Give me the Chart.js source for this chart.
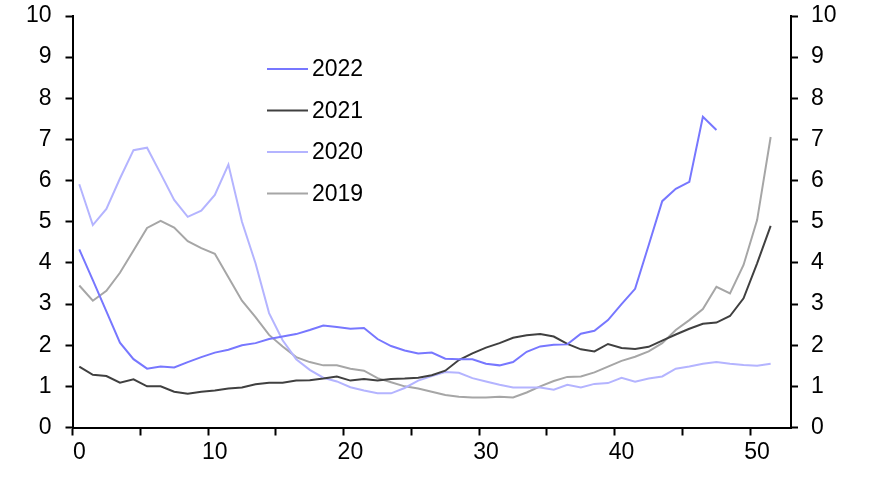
<!DOCTYPE html>
<html>
<head>
<meta charset="utf-8">
<script src="https://cdn.jsdelivr.net/npm/chart.js@4.4.1/dist/chart.umd.min.js"></script>
<style>
  html, body { margin: 0; padding: 0; background: #fff; }
  #wrap { width: 876px; height: 490px; position: relative; }
</style>
</head>
<body>
<div id="wrap"><canvas id="c" width="876" height="490"></canvas></div>
<script>
// Week index (0-based), plotted at the centre of each week slot
const seriesNames = ["2022", "2021", "2020", "2019"];
const values2022 = [4.33,3.58,2.82,2.06,1.66,1.43,1.48,1.46,1.59,1.71,
  1.82,1.89,2.00,2.05,2.15,2.21,2.27,2.37,2.48,2.44,
  2.40,2.42,2.15,1.98,1.87,1.80,1.82,1.67,1.66,1.66,
  1.55,1.51,1.59,1.84,1.97,2.01,2.02,2.28,2.35,2.61,
  3.00,3.37,4.43,5.50,5.80,5.97,7.55,7.23];
const values2021 = [1.48,1.28,1.25,1.09,1.17,1.00,1.00,0.87,0.82,0.87,
  0.90,0.95,0.97,1.05,1.09,1.09,1.14,1.15,1.19,1.24,
  1.14,1.18,1.14,1.18,1.19,1.21,1.27,1.38,1.64,1.80,
  1.94,2.05,2.18,2.24,2.27,2.21,2.03,1.90,1.85,2.03,
  1.93,1.91,1.96,2.11,2.26,2.40,2.52,2.55,2.71,3.14,
  3.99,4.90];
const values2020 = [5.91,4.92,5.31,6.05,6.74,6.80,6.17,5.53,5.12,5.27,
  5.65,6.39,5.00,3.99,2.78,2.12,1.66,1.40,1.21,1.12,
  0.98,0.90,0.83,0.83,0.96,1.14,1.25,1.35,1.33,1.20,
  1.12,1.04,0.97,0.97,0.97,0.92,1.04,0.97,1.06,1.08,
  1.21,1.11,1.19,1.24,1.43,1.48,1.55,1.59,1.55,1.52,
  1.50,1.55];
const values2019 = [3.45,3.08,3.32,3.76,4.30,4.85,5.02,4.86,4.53,4.36,
  4.22,3.65,3.08,2.68,2.25,1.97,1.71,1.59,1.51,1.51,
  1.43,1.38,1.20,1.10,1.00,0.95,0.87,0.79,0.75,0.73,
  0.73,0.75,0.73,0.85,1.00,1.13,1.23,1.24,1.34,1.48,
  1.62,1.72,1.85,2.05,2.37,2.61,2.88,3.42,3.26,3.95,
  5.04,7.06];
const xTickMarks = [0,5,10,15,20,25,30,35,40,45,50];
const xTickLabels = [0,10,20,30,40,50];
const yTicks = [0,1,2,3,4,5,6,7,8,9,10];

const colors = ["#7777ff", "#404040", "#b4b4ff", "#a6a6a6"];
const allValues = [values2022, values2021, values2020, values2019];

function toPoints(arr) { return arr.map((v, i) => ({ x: i + 0.5, y: v })); }

const FONT = "'Liberation Sans', Arial, sans-serif";
const FSIZE = 23;

const legendPlugin = {
  id: 'inlineLegend',
  afterDraw(chart) {
    const ctx = chart.ctx;
    ctx.save();
    const ys = [69, 110.5, 152, 193.5];
    seriesNames.forEach((name, k) => {
      ctx.strokeStyle = colors[k];
      ctx.lineWidth = 2;
      ctx.beginPath();
      ctx.moveTo(267, ys[k]);
      ctx.lineTo(308, ys[k]);
      ctx.stroke();
      ctx.fillStyle = '#000';
      ctx.font = FSIZE + "px " + FONT;
      ctx.textBaseline = 'middle';
      ctx.textAlign = 'left';
      ctx.fillText(name, 312, ys[k] + 1);
    });
    ctx.restore();
  }
};

function yAxis(pos, pad, width) {
  return {
    type: 'linear', min: 0, max: 10, position: pos,
    afterBuildTicks: s => { s.ticks = yTicks.map(v => ({ value: v })); },
    afterFit: s => { s.width = width; s.paddingTop = 0; s.paddingBottom = 0; },
    ticks: { color: '#000', font: { family: FONT, size: FSIZE }, padding: pad },
    grid: { drawOnChartArea: false, drawTicks: true, tickLength: 7, tickColor: '#000', tickWidth: 2 },
    border: { display: true, color: '#000', width: 2 }
  };
}

new Chart(document.getElementById('c'), {
  type: 'line',
  data: {
    datasets: seriesNames.map((name, k) => ({
      label: name,
      data: toPoints(allValues[k]),
      borderColor: colors[k],
      backgroundColor: colors[k],
      borderWidth: 2,
      pointRadius: 0,
      tension: 0,
      fill: false,
      yAxisID: 'y'
    }))
  },
  options: {
    responsive: false,
    animation: false,
    devicePixelRatio: 1,
    layout: { padding: { top: 16, left: 0, right: 0, bottom: 0 } },
    plugins: { legend: { display: false }, tooltip: { enabled: false } },
    scales: {
      x: {
        type: 'linear', min: 0, max: 53,
        afterBuildTicks: s => {
          const t = xTickMarks.map(v => ({ value: v }));
          xTickLabels.forEach(v => t.push({ value: v + 0.5 }));
          t.sort((a, b) => a.value - b.value);
          s.ticks = t;
        },
        afterFit: s => { s.height = 62.5; s.paddingLeft = 0; s.paddingRight = 0; },
        ticks: {
          autoSkip: false, maxRotation: 0, color: '#000', padding: 3,
          font: { family: FONT, size: FSIZE },
          callback: v => (Math.abs(v % 1 - 0.5) < 1e-6 ? String(v - 0.5) : '')
        },
        grid: {
          drawOnChartArea: false, drawTicks: true, tickLength: 8, tickWidth: 2,
          tickColor: c => (c.tick && Math.abs(c.tick.value % 5) < 1e-6 ? '#000' : 'rgba(0,0,0,0)'),
          color: 'rgba(0,0,0,0)'
        },
        border: { display: true, color: '#000', width: 2 }
      },
      y: yAxis('left', 14, 72.5),
      y2: yAxis('right', 13, 85)
    }
  },
  plugins: [legendPlugin]
});
</script>
</body>
</html>
